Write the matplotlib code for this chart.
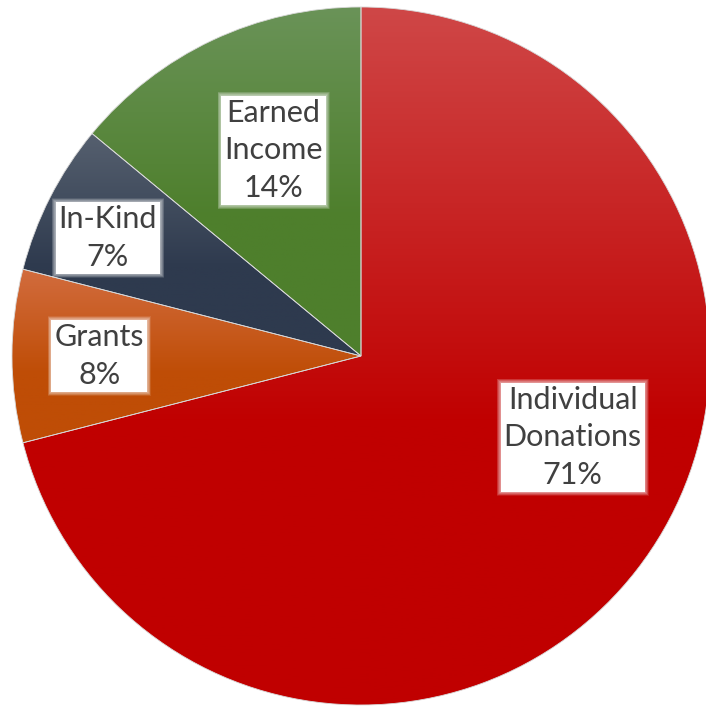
import numpy as np
import matplotlib.pyplot as plt
from matplotlib.colors import LinearSegmentedColormap

labels = ["Individual\nDonations", "Grants", "In-Kind", "Earned\nIncome"]
shares = [71, 8, 7, 14]
top_colors = ["#cf4747", "#d26c3e", "#56606f", "#6a9358"]
bottom_colors = ["#c00000", "#bf4d06", "#2e3a4e", "#4e7f2c"]

# label placement: (fraction of radius, angle in degrees)
label_pos = [(0.65, -21), (0.75, 180), (0.80, 155), (0.64, 113)]

plt.rcParams['font.family'] = ['Lato', 'DejaVu Sans']

fig = plt.figure(figsize=(7.06, 7.06), dpi=100)
ax = fig.add_axes([0, 0, 1, 1])

cx, cy, r = 361, 350, 349
wedges, _ = ax.pie(shares, startangle=90, counterclock=False,
                   center=(cx, cy), radius=r, frame=True,
                   wedgeprops=dict(linewidth=0.6, edgecolor="#d8d8d8"))
ax.set_xlim(0, 706)
ax.set_ylim(0, 706)
ax.axis("off")

grad = np.linspace(0, 1, 256).reshape(-1, 1)
for w, c0, c1 in zip(wedges, top_colors, bottom_colors):
    ext = w.get_path().get_extents(w.get_patch_transform())
    cmap = LinearSegmentedColormap.from_list("g", [(0, c0), (0.6, c1), (1, c1)])
    im = ax.imshow(grad, cmap=cmap, aspect="auto", origin="upper",
                   extent=[ext.x0, ext.x1, ext.y0, ext.y1], zorder=1.5)
    im.set_clip_path(w)
    w.set_facecolor("none")
    w.set_zorder(2)
ax.set_xlim(0, 706)
ax.set_ylim(0, 706)

fs = 22
ls = 1.42
for lab, pct, (f, ang) in zip(labels, shares, label_pos):
    a = np.deg2rad(ang)
    x = cx + f * r * np.cos(a)
    y = cy + f * r * np.sin(a)
    s = f"{lab}\n{pct}%"
    # soft white glow around the label box
    for k in range(8, 0, -1):
        ax.text(x, y, s, ha="center", va="center", fontsize=fs, color="none",
                linespacing=ls, zorder=3,
                bbox=dict(boxstyle=f"square,pad={0.1 + 0.016 * k}", fc="white",
                          ec="none", lw=0, alpha=0.1))
    ax.text(x, y, s, ha="center", va="center", fontsize=fs, color="#404040",
            linespacing=ls, zorder=4,
            bbox=dict(boxstyle="square,pad=0.1", fc="white", ec="none", lw=0))

fig.savefig("out.png", dpi=100)
